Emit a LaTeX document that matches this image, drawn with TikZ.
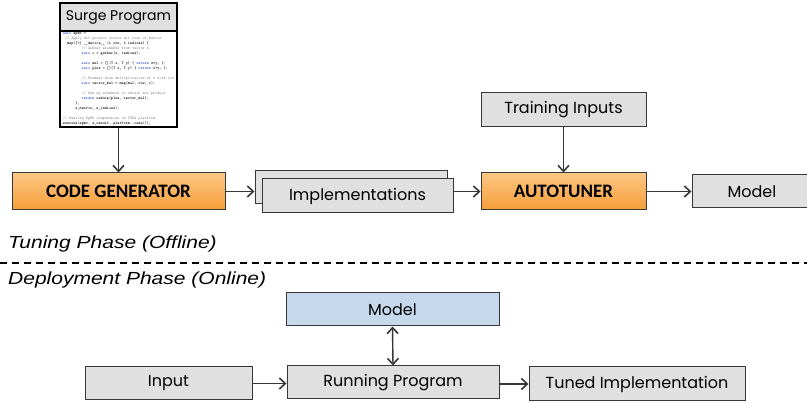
\documentclass[tikz,border=0pt]{standalone}
\usepackage{fontspec}
\usetikzlibrary{arrows.meta}
\newfontfamily\boxfont{Poppins}
\newfontfamily\calfont{Carlito}
\newfontfamily\phasefont{Liberation Sans}
\definecolor{boxgray}{RGB}{224,224,224}
\definecolor{boxline}{RGB}{55,55,55}
\definecolor{orangetop}{RGB}{252,198,132}
\definecolor{orangebot}{RGB}{246,158,56}
\definecolor{modelblue}{RGB}{198,216,235}
\definecolor{codeblue}{RGB}{40,70,200}
\definecolor{codegray}{RGB}{140,140,140}
\newcommand{\codekw}[1]{\textcolor{codeblue}{#1}}
\newcommand{\codecm}[1]{\textcolor{codegray}{#1}}
\newcommand{\sind}[1]{\hskip#1\fontcharwd\font`x\relax}
\newcommand{\widetext}[1]{\scalebox{1.2}[1]{#1}}
\tikzset{
  graybox/.style={draw=boxline, fill=boxgray, line width=1pt, inner sep=0pt,
    font=\boxfont\fontsize{16}{18}\selectfont},
  stagebox/.style={draw=boxline, top color=orangetop, bottom color=orangebot,
    line width=1pt, inner sep=0pt, font=\calfont\bfseries\fontsize{19}{21}\selectfont},
  flow/.style={draw=boxline, line width=1.4pt, -{Straight Barb[length=6pt,width=11pt,line width=1.6pt]}},
  phase/.style={anchor=base west, inner sep=0pt, font=\phasefont\itshape\fontsize{17.5}{19}\selectfont}
}
\begin{document}
\begin{tikzpicture}[x=1pt, y=-1pt]
    \useasboundingbox (0,0) rectangle (807,403);

    % Surge program with its source
    \node[graybox, draw=black, line width=1.3pt, minimum width=117pt, minimum height=28pt,
          font=\boxfont\fontsize{14}{16}\selectfont] (surgehead) at (118.5,17) {Surge Program};
    \node[draw=black, fill=white, line width=1.3pt, minimum width=117pt, minimum height=96pt,
          inner xsep=0pt, inner ysep=0.5pt, align=left, font=\ttfamily\bfseries\fontsize{4}{5}\selectfont] (surgecode) at (118.5,79) {%
\codekw{auto} spmv =\\
\sind{1}\codecm{// Apply dot product across all rows of matrix}\\
\sind{2}map([=] \_\_device\_\_ (t row, t indices) \{\\
\sind{9}\codecm{// Gather elements from vector x}\\
\sind{9}\codekw{auto} c = gather(x, indices);\\
\mbox{}\\
\sind{9}\codekw{auto} mul = [](T x, T y) \{ \codekw{return} x*y; \};\\
\sind{9}\codekw{auto} plus = [](T x, T y) \{ \codekw{return} x+y; \};\\
\mbox{}\\
\sind{9}\codecm{// Element-wise multiplication of x with row}\\
\sind{9}\codekw{auto} vector\_mul = map(mul, row, c);\\
\mbox{}\\
\sind{9}\codecm{// Sum up elements to obtain dot product}\\
\sind{9}\codekw{return} reduce(plus, vector\_mul);\\
\sind{6}\},\\
\sind{6}s\_matrix, s\_indices);\\
\mbox{}\\
\codecm{// Realize SpMV computation on CUDA platform}\\
execute(spmv, s\_result, platform::cuda());};

    % Tuning phase
    \node[stagebox, minimum width=213pt, minimum height=37pt] (codegen) at (118.5,191.5) {CODE GENERATOR};
    \node[graybox, minimum width=192pt, minimum height=33pt] (implback) at (351,187.5) {};
    \node[graybox, minimum width=191pt, minimum height=34pt] (implfront) at (357.5,196) {Implementations};
    \node[stagebox, minimum width=165pt, minimum height=37pt] (tuner) at (563.5,191.5) {AUTOTUNER};
    \node[graybox, minimum width=165pt, minimum height=34pt] (training) at (563.5,110) {Training Inputs};
    \node[graybox, minimum width=120pt, minimum height=33pt] (modeltop) at (752,191.5) {Model};

    \draw[flow] (surgecode.south) -- (codegen.north);
    \draw[flow] (codegen.east) -- (codegen.east -| implback.west);
    \draw[flow] (implfront.east |- tuner.west) -- (tuner.west);
    \draw[flow] (training.south) -- (tuner.north);
    \draw[flow] (tuner.east) -- (modeltop.west);

    % Phase separator
    \node[phase] (tuninglabel) at (8,249) {\widetext{Tuning Phase (Offline)}};
    \draw[black, line width=1.3pt, dash pattern=on 7pt off 5pt] (0,263) -- (807,263);
    \node[phase] (deploylabel) at (8,285) {\widetext{Deployment Phase (Online)}};

    % Deployment phase
    \node[graybox, fill=modelblue, minimum width=213pt, minimum height=33pt] (modelbot) at (392.5,309.5) {Model};
    \node[graybox, minimum width=212pt, minimum height=33pt] (running) at (393,382.5) {Running Program};
    \node[graybox, minimum width=167pt, minimum height=33pt] (input) at (168.5,383.5) {Input};
    \node[graybox, minimum width=216pt, minimum height=34pt] (tuned) at (637,384) {Tuned Implementation};

    \draw[flow, {Straight Barb[length=6pt,width=11pt,line width=1.6pt]}-{Straight Barb[length=6pt,width=11pt,line width=1.6pt]}] (modelbot.south) -- (running.north);
    \draw[flow] (input.east) -- (input.east -| running.west);
    \draw[flow] (running.east |- tuned.west) -- (tuned.west);
\end{tikzpicture}
\end{document}
